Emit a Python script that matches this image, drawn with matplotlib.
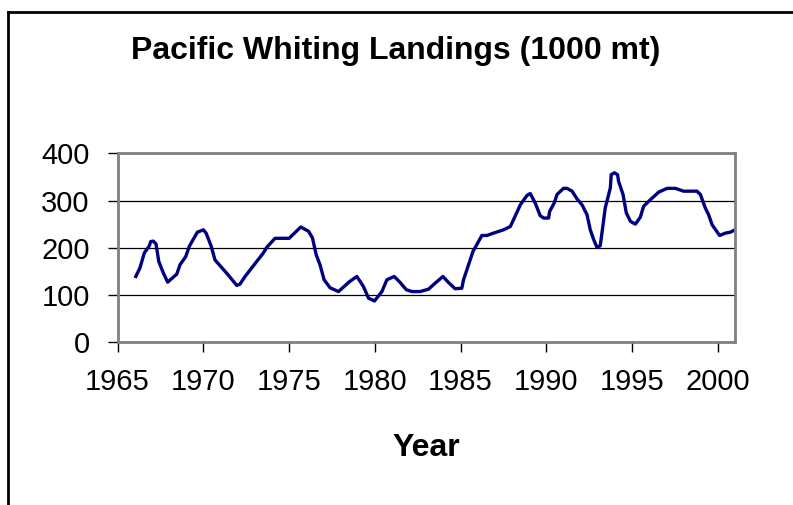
import matplotlib.pyplot as plt
from matplotlib.lines import Line2D

plt.rcParams["font.family"] = ["Liberation Sans", "DejaVu Sans"]

# Landings (year, 1000 mt)
years = [1966.06, 1966.30, 1966.56, 1966.85, 1966.93, 1967.08, 1967.24, 1967.40,
         1967.67, 1967.92, 1968.45, 1968.64, 1968.97, 1969.18, 1969.65, 1970.00,
         1970.16, 1970.45, 1970.68, 1971.36, 1971.95, 1972.14, 1972.43, 1973.50,
         1973.70, 1974.18, 1975.00, 1975.68, 1976.13, 1976.36, 1976.58, 1976.80,
         1977.04, 1977.39, 1977.88, 1978.52, 1978.95, 1979.33, 1979.63, 1979.98,
         1980.41, 1980.70, 1981.13, 1981.48, 1981.83, 1982.16, 1982.64, 1983.13,
         1983.52, 1983.97, 1984.30, 1984.68, 1985.07, 1985.17, 1985.40, 1985.72,
         1986.24, 1986.53, 1986.92, 1987.50, 1987.90, 1988.18, 1988.48, 1988.87,
         1989.06, 1989.35, 1989.64, 1989.84, 1990.13, 1990.19, 1990.46, 1990.62,
         1991.00, 1991.20, 1991.50, 1991.78, 1992.08, 1992.37, 1992.56, 1992.76,
         1992.95, 1993.14, 1993.24, 1993.43, 1993.73, 1993.78, 1993.96, 1994.15,
         1994.21, 1994.47, 1994.66, 1994.90, 1995.19, 1995.48, 1995.67, 1996.07,
         1996.55, 1997.04, 1997.52, 1998.00, 1998.78, 1998.98, 1999.27, 1999.46,
         1999.66, 2000.10, 2000.44, 2000.73, 2001.00]
landings = [139, 157, 189, 204, 213, 214, 208, 171,
            146, 127, 144, 164, 181, 203, 233, 238,
            231, 204, 174, 146, 120, 123, 139, 189,
            201, 220, 220, 244, 235, 221, 185, 164,
            132, 115, 107, 128, 139, 118, 93, 87,
            107, 132, 139, 126, 111, 107, 107, 112,
            125, 139, 126, 113, 114, 132, 157, 192,
            226, 226, 231, 238, 245, 267, 291, 311,
            315, 295, 268, 263, 263, 277, 295, 313,
            326, 326, 320, 304, 291, 270, 238, 217,
            201, 204, 231, 284, 327, 355, 359, 355,
            341, 313, 274, 256, 250, 265, 288, 302,
            318, 326, 326, 320, 320, 313, 284, 270,
            249, 226, 231, 233, 238]

x_ticks = [1965, 1970, 1975, 1980, 1985, 1990, 1995, 2000]
y_ticks = [0, 100, 200, 300, 400]

fig = plt.figure(figsize=(7.93, 5.05), dpi=100)
ax = fig.add_axes([0.1483, 0.3228, 0.7786, 0.3733])

ax.plot(years, landings, color="#000080", lw=2.4, solid_joinstyle="round")
ax.set_xlim(1965, 2001)
ax.set_ylim(0, 400)
ax.set_xticks(x_ticks)
ax.set_yticks(y_ticks)
ax.tick_params(labelsize=21, length=7, width=1, color="black")
ax.tick_params(axis="x", pad=12)
ax.tick_params(axis="y", pad=13)
ax.grid(axis="y", color="black", lw=0.9)
for s in ax.spines.values():
    s.set_color("#808080")
    s.set_linewidth(2)

fig.text(0.4985, 0.899, "Pacific Whiting Landings (1000 mt)", ha="center", va="center",
         fontsize=23, fontweight="bold")
fig.text(0.537, 0.112, "Year", ha="center", va="center", fontsize=23, fontweight="bold")

# outer chart frame (top and left edges only visible)
fig.add_artist(Line2D([0.0102, 0.0102], [0.0, 0.9762], transform=fig.transFigure,
                      color="black", lw=2))
fig.add_artist(Line2D([0.0102, 1.0], [0.9762, 0.9762], transform=fig.transFigure,
                      color="black", lw=2))

fig.savefig("out.png", dpi=100)
